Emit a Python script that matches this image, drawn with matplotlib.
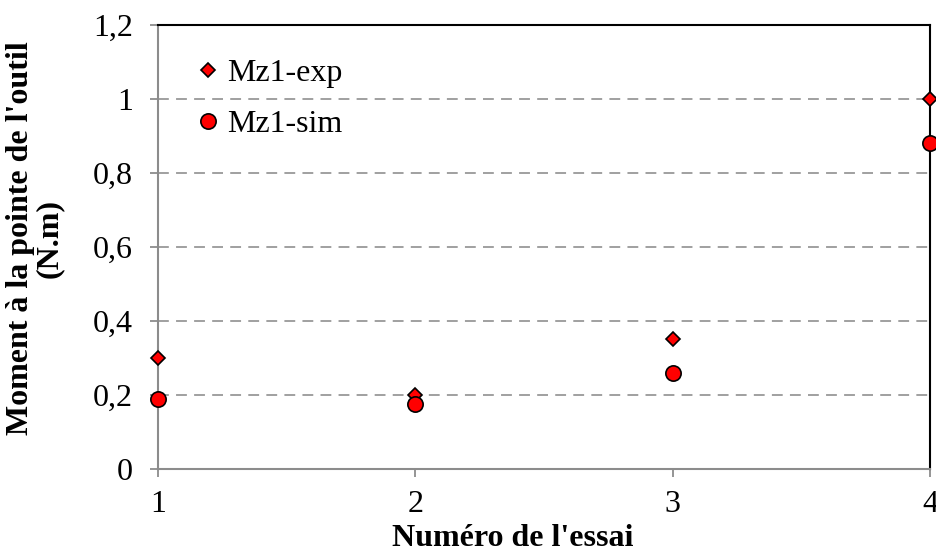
import numpy as np
import matplotlib.pyplot as plt
from matplotlib.ticker import FuncFormatter

plt.rcParams['font.family'] = ['Liberation Serif', 'DejaVu Serif']

essai = [1, 2, 3, 4]
mz1_exp = [0.30, 0.20, 0.35, 1.00]
mz1_sim = [0.19, 0.175, 0.26, 0.88]

fig = plt.figure(figsize=(9.36, 5.56), dpi=100)
ax = fig.add_axes([0.1688, 0.1565, 0.8248, 0.7985])

ax.plot(essai, mz1_exp, linestyle='none', marker='D', ms=7.5, mfc='#ff0000',
        mec='black', mew=1.2, label='Mz1-exp', clip_on=False, zorder=5)
ax.plot(essai, mz1_sim, linestyle='none', marker='o', ms=11, mfc='#ff0000',
        mec='black', mew=1.2, label='Mz1-sim', clip_on=False, zorder=6)

ax.set_xlim(1, 4)
ax.set_ylim(0, 1.2)
ax.set_xticks([1, 2, 3, 4])
ax.set_yticks(np.arange(0, 1.21, 0.2))
ax.yaxis.set_major_formatter(FuncFormatter(lambda v, p: ('%g' % round(v, 1)).replace('.', ',')))

for y in [0.2, 0.4, 0.6, 0.8, 1.0]:
    ax.axhline(y, color='#999999', lw=1.3, dashes=(6, 4), zorder=1)

for s in ['left', 'bottom']:
    ax.spines[s].set_color('#8c8c8c')
    ax.spines[s].set_linewidth(1.5)
for s in ['top', 'right']:
    ax.spines[s].set_color('black')
    ax.spines[s].set_linewidth(1.5)

ax.tick_params(direction='out', length=6, width=1.3, color='#8c8c8c',
               labelsize=23)
ax.tick_params(axis='y', pad=12)
ax.tick_params(axis='x', pad=9)

ax.set_xlabel("Numéro de l'essai", fontsize=23, fontweight='bold')
ax.xaxis.set_label_coords(0.46, -0.125)
ax.set_ylabel("Moment à la pointe de l'outil\n(N.m)", fontsize=23,
              fontweight='bold', linespacing=1.0)
ax.yaxis.set_label_coords(-0.122, 0.52)

ax.legend(loc='upper left', bbox_to_anchor=(0.036, 0.953), frameon=False,
          fontsize=23, handlelength=0.6, handletextpad=0.3, labelspacing=0.68,
          borderaxespad=0)

fig.savefig('out.png', dpi=100)
